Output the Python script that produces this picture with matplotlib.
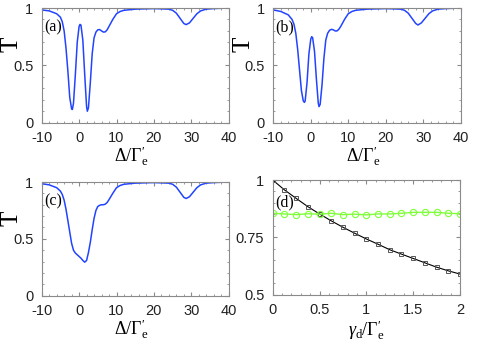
import numpy as np
import matplotlib.pyplot as plt
from matplotlib.ticker import MultipleLocator

plt.rcParams['font.family'] = ['Liberation Sans', 'DejaVu Sans']
plt.rcParams['mathtext.fontset'] = 'custom'
plt.rcParams['mathtext.rm'] = 'Liberation Serif'
plt.rcParams['mathtext.it'] = 'Liberation Serif:italic'
plt.rcParams['axes.unicode_minus'] = False

# detuning grid and transmission curves
det_a = [-10, -8, -6, -5, -4.5, -4, -3.5, -3, -2.5, -2, -1.8, -1.5, -1, -0.5, 0, 0.25, 0.5, 1, 1.5,
         2, 2.2, 2.5, 3, 3.5, 4, 4.5, 5, 5.5, 6, 6.5, 7, 7.5, 8, 9, 10, 11, 12, 15, 20, 24, 25, 26,
         27, 28, 28.6, 29.5, 30.5, 31.5, 32.5, 34, 36, 40]
T_a = [0.983, 0.975, 0.95, 0.92, 0.88, 0.80, 0.65, 0.45, 0.22, 0.12, 0.115, 0.17, 0.42, 0.70, 0.84,
       0.857, 0.85, 0.72, 0.42, 0.14, 0.10, 0.13, 0.35, 0.60, 0.74, 0.79, 0.81, 0.812, 0.80, 0.79,
       0.792, 0.81, 0.84, 0.90, 0.95, 0.97, 0.98, 0.99, 0.995, 0.99, 0.98, 0.955, 0.91, 0.865,
       0.855, 0.87, 0.91, 0.95, 0.975, 0.99, 0.995, 1.0]

det_b = [-10, -8, -6, -5, -4.5, -4, -3.5, -3, -2.5, -2, -1.7, -1.5, -1, -0.5, 0, 0.25, 0.5, 1, 1.5,
         2, 2.2, 2.5, 3, 3.5, 4, 4.5, 5, 5.5, 6, 6.5, 7, 7.5, 8, 9, 10, 11, 12, 15, 20, 24, 25, 26,
         27, 28, 28.6, 29.5, 30.5, 31.5, 32.5, 34, 36, 40]
T_b = [0.983, 0.97, 0.94, 0.90, 0.86, 0.78, 0.64, 0.46, 0.28, 0.19, 0.177, 0.19, 0.35, 0.60, 0.73,
       0.75, 0.74, 0.62, 0.38, 0.17, 0.14, 0.16, 0.33, 0.56, 0.72, 0.78, 0.805, 0.814, 0.81, 0.80,
       0.80, 0.815, 0.84, 0.90, 0.95, 0.97, 0.98, 0.99, 0.995, 0.99, 0.98, 0.955, 0.91, 0.865,
       0.852, 0.87, 0.91, 0.95, 0.975, 0.99, 0.995, 1.0]

det_c = [-10, -8, -6, -5, -4.5, -4, -3.5, -3, -2.5, -2, -1.5, -1, -0.5, 0, 0.5, 1, 1.5, 2, 2.5,
         3, 3.5, 4, 4.5, 5, 5.5, 6, 6.5, 7, 7.5, 8, 9, 10, 11, 12, 15, 20, 24, 25, 26, 27, 28,
         28.6, 29.5, 30.5, 31.5, 32.5, 34, 36, 40]
T_c = [0.985, 0.975, 0.95, 0.92, 0.89, 0.84, 0.76, 0.66, 0.56, 0.46, 0.40, 0.375, 0.36, 0.345,
       0.33, 0.31, 0.295, 0.31, 0.38, 0.47, 0.58, 0.68, 0.75, 0.785, 0.795, 0.80, 0.80, 0.805,
       0.82, 0.845, 0.90, 0.95, 0.97, 0.98, 0.99, 0.995, 0.99, 0.98, 0.955, 0.91, 0.865, 0.855,
       0.87, 0.91, 0.95, 0.975, 0.99, 0.995, 1.0]

# panel (d)
gamma_d = [0, 0.125, 0.25, 0.375, 0.5, 0.625, 0.75, 0.875, 1.0, 1.125, 1.25, 1.375, 1.5,
           1.625, 1.75, 1.875, 2.0]
T_black = [1.0, 0.957, 0.920, 0.884, 0.852, 0.822, 0.794, 0.768, 0.743, 0.720, 0.696, 0.677,
           0.658, 0.639, 0.620, 0.604, 0.590]
T_green = [0.855, 0.852, 0.849, 0.853, 0.851, 0.855, 0.849, 0.851, 0.848, 0.852, 0.852, 0.855,
           0.859, 0.859, 0.859, 0.855, 0.853]

W, H = 479, 346
fig = plt.figure(figsize=(W / 100, H / 100), dpi=100)


def box(l, t, r, b):
    return fig.add_axes([l / W, 1 - b / H, (r - l) / W, (b - t) / H])


def style(ax):
    for s in ax.spines.values():
        s.set_color('#8a8a8a')
        s.set_linewidth(0.8)
    ax.tick_params(which='both', direction='in', top=True, right=True, colors='#8a8a8a',
                   labelcolor='#222222', labelsize=10.5)
    ax.tick_params(axis='x', which='both', pad=6)
    ax.tick_params(axis='y', which='both', pad=6)
    ax.tick_params(which='major', length=3)
    ax.tick_params(which='minor', length=1.5)


blue = '#2244ff'
xlab = r'$\Delta/\Gamma_{\mathrm{e}}^{\prime}$'
panels = [
    (box(41.7, 8, 228.7, 122.7), det_a, T_a, '(a)'),
    (box(273.3, 8, 460.7, 122.7), det_b, T_b, '(b)'),
    (box(41.7, 182, 228.7, 295.7), det_c, T_c, '(c)'),
]
for ax, x, y, lab in panels:
    ax.plot(x, y, color=blue, lw=1.1)
    ax.set_xlim(-10, 40)
    ax.set_ylim(0, 1)
    ax.set_xticks([-10, 0, 10, 20, 30, 40])
    ax.set_yticks([0, 0.5, 1])
    ax.set_yticklabels(['0', '0.5', '1'])
    ax.xaxis.set_minor_locator(MultipleLocator(2))
    ax.yaxis.set_minor_locator(MultipleLocator(0.1))
    style(ax)
    ax.set_xlabel(xlab, fontsize=13)
    ax.xaxis.set_label_coords(0.48, -0.19)
    ax.set_ylabel('T', family='Liberation Serif', fontsize=18)
    ax.yaxis.set_label_coords(-0.16, 0.68)
    ax.yaxis.label.set_va('center')
    ax.text(0.012, 0.83, lab, transform=ax.transAxes, family='Liberation Serif',
            fontsize=11.5, ha='left', va='center')

axd = box(272.7, 180, 460, 294.7)
axd.plot(gamma_d, T_black, color='black', lw=0.8, marker='s', ms=3.5, mfc='none',
         mec='#555555', mew=0.7)
axd.plot(gamma_d, T_green, color='#7fff3a', lw=1.0, marker='o', ms=4.5, mfc='none',
         mec='#7fff3a', mew=0.8)
axd.set_xlim(0, 2)
axd.set_ylim(0.5, 1)
axd.set_xticks([0, 0.5, 1, 1.5, 2])
axd.set_xticklabels(['0', '0.5', '1', '1.5', '2'])
axd.set_yticks([0.5, 0.75, 1])
axd.set_yticklabels(['0.5', '0.75', '1'])
axd.xaxis.set_minor_locator(MultipleLocator(0.1))
axd.yaxis.set_minor_locator(MultipleLocator(0.05))
style(axd)
axd.set_xlabel(r'$\gamma_{\mathrm{d}}/\Gamma_{\mathrm{e}}^{\prime}$', fontsize=13)
axd.xaxis.set_label_coords(0.5, -0.20)
axd.text(0.012, 0.806, '(d)', transform=axd.transAxes, family='Liberation Serif',
         fontsize=11.5, ha='left', va='center')

fig.savefig('out.png', dpi=100)
